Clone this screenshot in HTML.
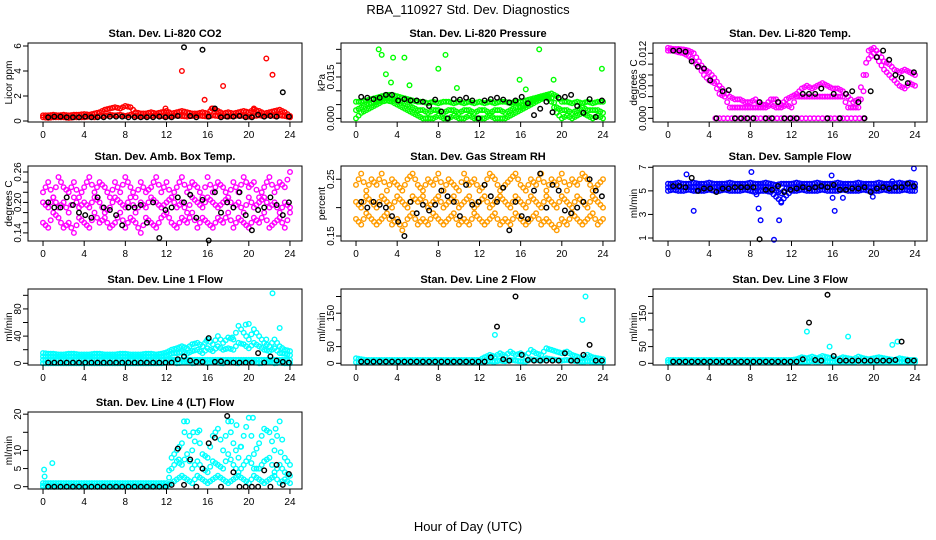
<!DOCTYPE html>
<html><head><meta charset="utf-8"><style>
body{margin:0;background:#fff;}
svg{display:block;font-family:"Liberation Sans",sans-serif;}
</style></head><body>
<svg id="chart" width="936" height="540" viewBox="0 0 936 540">
<rect width="936" height="540" fill="#fff"/>
<text x="468" y="14" font-size="13" text-anchor="middle">RBA_110927  Std. Dev. Diagnostics</text>
<text x="468" y="531" font-size="13" text-anchor="middle">Hour of Day (UTC)</text>
</svg>
<script>
// ---------- data ----------
const co2A=[0.45,0.45,0.5,0.45,0.5,0.45,0.5,0.5,0.55,0.5,0.6,0.7,0.9,1.0,1.1,1.0,1.2,1.1,0.7,0.6,0.6,0.7,0.6,0.7,0.8,0.6,0.7,0.8,0.7,0.6,0.6,0.7,0.6,1.0,0.8,0.6,0.7,0.6,0.7,0.8,0.7,0.9,0.8,0.6,0.7,0.8,0.9,0.7,0.4];
const co2B=[0.3,0.25,0.3,0.3,0.3,0.25,0.3,0.3,0.3,0.35,0.3,0.4,0.4,0.5,0.45,0.5,0.4,0.5,0.4,0.35,0.4,0.4,0.45,0.4,0.35,0.4,0.45,0.4,0.35,0.4,0.45,0.4,0.35,0.45,0.4,0.4,0.35,0.4,0.45,0.4,0.35,0.4,0.45,0.4,0.5,0.4,0.45,0.4,0.3];
const co2OutH=[13.5,15.7,17.5,21.7,22.3,16.4,11.9,20.5];
const co2OutV=[4.0,1.7,2.8,5.0,3.7,1.0,1.0,1.0];
const co2K=[0.3,0.35,0.35,0.3,0.3,0.3,0.35,0.3,0.3,0.3,0.35,0.35,0.35,0.3,0.3,0.3,0.3,0.3,0.35,0.3,0.3,0.4,5.9,0.4,0.3,5.7,0.35,1.0,0.3,0.35,0.35,0.4,0.3,0.3,0.5,0.35,0.4,0.35,2.3,0.35];

const prsA=[0.006,0.006,0.0065,0.007,0.0075,0.008,0.0085,0.0085,0.008,0.0075,0.007,0.0065,0.006,0.006,0.0055,0.006,0.0055,0.006,0.006,0.0055,0.006,0.0055,0.006,0.0055,0.006,0.0055,0.006,0.0055,0.006,0.006,0.0055,0.006,0.006,0.0065,0.007,0.0075,0.008,0.0085,0.009,0.008,0.006,0.006,0.0055,0.006,0.0055,0.006,0.0055,0.006,0.006];
const prsB=[0,0.002,0.003,0.004,0.005,0.006,0.0065,0.006,0.005,0.004,0.003,0.002,0.001,0,0,0,0.001,0,0,0.001,0,0,0.001,0,0,0,0.001,0,0,0,0.001,0.002,0.003,0.004,0.005,0.006,0.007,0.008,0.006,0.002,0,0.001,0,0.001,0.002,0.001,0,0.001,0];
const prsC=[0.003,0.004,0.005,0.0055,0.006,0.007,0.0075,0.007,0.0065,0.006,0.005,0.004,0.003,0.003,0.002,0.003,0.003,0.002,0.003,0.003,0.002,0.003,0.003,0.002,0.003,0.003,0.002,0.003,0.003,0.002,0.003,0.004,0.004,0.005,0.006,0.007,0.0075,0.008,0.0075,0.004,0.003,0.003,0.002,0.003,0.004,0.003,0.003,0.003,0.002];
const prsOutH=[2.2,2.5,2.9,3.4,3.6,4.7,5.2,8.0,8.7,9.8,15.9,16.5,17.8,19.2,23.9];
const prsOutV=[0.025,0.023,0.016,0.013,0.022,0.022,0.012,0.018,0.023,0.011,0.014,0.0105,0.025,0.014,0.018];
const prsK=[0.0078,0.0075,0.007,0.0075,0.0085,0.0085,0.0065,0.007,0.0065,0.0065,0.006,0.0045,0.0068,0.0025,0.0,0.007,0.0068,0.0075,0.0065,0.0,0.0065,0.007,0.0075,0.0068,0.0058,0.0065,0.0078,0.0055,0.0012,0.0035,0.006,0.0022,0.0075,0.0078,0.0085,0.0045,0.002,0.007,0.0005,0.0065];

const tmpA=[0.013,0.0128,0.0128,0.0127,0.0125,0.012,0.0105,0.009,0.0085,0.0075,0.006,0.005,0.004,0.0035,0.0035,0.003,0.003,0.0035,0.0025,0.0025,0.0035,0.0035,0.0025,0.0035,0.004,0.0045,0.0055,0.006,0.0055,0.006,0.0065,0.006,0.0055,0.0055,0.005,0.004,0.003,0.0035,0.008,0.0125,0.013,0.012,0.0105,0.01,0.009,0.0085,0.009,0.0085,0.008];
const tmpB=[0.0125,0.0125,0.0122,0.012,0.0115,0.0105,0.0095,0.008,0.007,0.0065,0.0045,0.004,0.002,0.002,0.002,0.002,0.002,0.002,0.002,0.002,0.0025,0.002,0.002,0.0025,0.002,0.004,0.004,0.004,0.004,0.004,0.004,0.004,0.004,0.004,0.004,0.002,0.002,0.002,0.005,0.011,0.012,0.0105,0.009,0.008,0.007,0.006,0.0055,0.0065,0.006];
const tmpZeroH=[4.6,5.0,5.4,5.8,6.2,6.6,7.0,7.4,7.8,8.2,8.6,9.0,9.4,9.8,10.2,10.6,11.0,11.4,11.8,12.2,12.6,13.0,13.4,13.8,14.2,14.6,15.0,15.4,15.8,16.2,16.6,17.0,17.4,17.8,18.2,18.6,19.0];
const tmpZeroV=[0,0,0,0,0,0,0,0,0,0,0,0,0,0,0,0,0,0,0,0,0,0,0,0,0,0,0,0,0,0,0,0,0,0,0,0,0];
const tmpK=[0.0125,0.0125,0.0123,0.0105,0.0095,0.0092,0.007,0.0,0.005,0.0052,0.0,0.0,0.0,0.0,0.003,0.0,0.0,0.003,0.0,0.0,0.0,0.0045,0.0045,0.0045,0.0055,0.0,0.0045,0.0,0.0045,0.005,0.003,0.0,0.005,0.0113,0.0125,0.0108,0.008,0.0075,0.0065,0.0085];

const ambA=[0.22,0.24,0.21,0.25,0.23,0.22,0.24,0.21,0.23,0.25,0.22,0.24,0.23,0.21,0.24,0.22,0.25,0.23,0.21,0.24,0.22,0.23,0.25,0.22,0.24,0.21,0.23,0.25,0.22,0.24,0.23,0.21,0.25,0.22,0.24,0.23,0.21,0.24,0.22,0.25,0.23,0.24,0.21,0.23,0.25,0.22,0.24,0.23,0.26];
const ambB=[0.16,0.15,0.18,0.17,0.15,0.16,0.14,0.17,0.16,0.15,0.18,0.16,0.17,0.15,0.16,0.18,0.15,0.17,0.16,0.14,0.17,0.16,0.15,0.17,0.18,0.16,0.15,0.17,0.16,0.18,0.15,0.17,0.16,0.15,0.17,0.16,0.18,0.15,0.17,0.16,0.15,0.17,0.16,0.18,0.15,0.16,0.17,0.15,0.18];
const ambC=[0.20,0.19,0.21,0.19,0.20,0.18,0.21,0.19,0.20,0.19,0.21,0.20,0.18,0.19,0.21,0.20,0.19,0.21,0.18,0.20,0.19,0.21,0.20,0.19,0.20,0.21,0.19,0.20,0.18,0.21,0.20,0.19,0.21,0.20,0.19,0.20,0.21,0.19,0.20,0.18,0.21,0.19,0.20,0.21,0.19,0.20,0.18,0.20,0.19];
const ambK=[0.20,0.19,0.19,0.21,0.195,0.18,0.175,0.17,0.21,0.19,0.185,0.175,0.155,0.19,0.19,0.195,0.16,0.2,0.13,0.185,0.19,0.21,0.2,0.215,0.17,0.205,0.125,0.22,0.18,0.2,0.19,0.22,0.175,0.145,0.185,0.19,0.21,0.195,0.175,0.2];

const rhA=[0.24,0.26,0.23,0.25,0.24,0.26,0.23,0.25,0.24,0.23,0.25,0.26,0.24,0.23,0.25,0.24,0.26,0.23,0.25,0.24,0.23,0.26,0.24,0.25,0.23,0.24,0.26,0.25,0.23,0.24,0.25,0.26,0.24,0.23,0.25,0.24,0.26,0.23,0.25,0.24,0.26,0.23,0.25,0.24,0.26,0.25,0.23,0.24,0.25];
const rhB=[0.18,0.17,0.19,0.18,0.17,0.18,0.19,0.17,0.18,0.16,0.18,0.19,0.17,0.18,0.17,0.19,0.18,0.17,0.18,0.19,0.17,0.18,0.17,0.19,0.18,0.17,0.18,0.19,0.17,0.18,0.17,0.19,0.18,0.17,0.18,0.19,0.17,0.18,0.17,0.16,0.18,0.17,0.19,0.18,0.17,0.18,0.19,0.17,0.18];
const rhC=[0.21,0.2,0.22,0.21,0.2,0.22,0.21,0.2,0.22,0.21,0.2,0.22,0.21,0.22,0.2,0.21,0.22,0.2,0.21,0.22,0.2,0.21,0.22,0.2,0.21,0.22,0.2,0.21,0.22,0.21,0.2,0.22,0.21,0.2,0.22,0.21,0.2,0.22,0.21,0.2,0.22,0.21,0.2,0.22,0.21,0.2,0.22,0.21,0.2];
const rhK=[0.21,0.2,0.21,0.205,0.2,0.185,0.175,0.15,0.21,0.19,0.205,0.195,0.205,0.23,0.22,0.21,0.185,0.24,0.205,0.21,0.24,0.22,0.21,0.235,0.16,0.21,0.185,0.18,0.23,0.26,0.2,0.24,0.23,0.195,0.19,0.2,0.21,0.25,0.23,0.22];

const sfA=[5.6,5.6,5.7,5.6,5.6,5.7,5.6,5.6,5.7,5.6,5.6,5.6,5.7,5.6,5.6,5.6,5.7,5.6,5.6,5.7,5.6,5.5,5.6,5.6,5.6,5.7,5.6,5.6,5.6,5.7,5.6,5.6,5.6,5.7,5.6,5.6,5.6,5.7,5.6,5.6,5.6,5.7,5.6,5.6,5.6,5.7,5.6,5.7,5.6];
const sfB=[5.0,5.1,5.0,5.0,5.1,5.0,5.0,5.0,5.1,5.0,5.0,5.1,5.0,5.0,5.0,5.1,5.0,4.9,5.0,5.0,4.9,4.5,4.1,4.6,5.0,5.0,5.1,5.0,5.0,5.0,5.1,5.0,5.0,5.0,5.1,5.0,5.0,5.0,5.1,5.0,5.0,5.0,5.1,5.0,5.0,5.0,5.1,5.0,5.0];
const sfC=[5.3,5.3,5.4,5.3,5.3,5.3,5.4,5.3,5.3,5.3,5.4,5.3,5.3,5.3,5.4,5.3,5.3,5.3,5.4,5.3,5.3,5.0,4.8,5.2,5.3,5.3,5.4,5.3,5.3,5.3,5.4,5.3,5.3,5.3,5.4,5.3,5.3,5.3,5.4,5.3,5.3,5.3,5.4,5.3,5.3,5.3,5.4,5.3,5.3];
const sfOutH=[1.8,2.5,8.1,8.6,8.8,9.0,10.3,10.8,11.0,15.9,16.0,16.2,17.0,19.9,21.8,23.9];
const sfOutV=[6.4,3.3,6.6,4.7,3.5,2.5,0.85,2.5,4.0,6.3,4.4,3.3,4.4,4.5,5.8,6.9];
const sfK=[5.4,5.4,5.3,6.1,5.0,5.2,5.2,4.9,5.2,5.2,5.3,5.3,5.3,5.3,0.9,5.1,5.1,5.4,4.9,5.1,5.2,5.3,5.2,5.3,5.4,5.3,5.5,5.1,5.1,5.2,5.2,5.3,4.9,5.2,5.3,5.2,5.3,5.3,5.6,5.4];

const l1A=[15,14,14,13,13,14,14,13,13,13,14,14,13,13,13,14,14,13,13,13,14,14,13,14,16,20,22,25,22,28,30,25,35,28,40,30,38,35,55,45,35,50,40,30,25,35,25,20,18];
const l1B=[5,5,5,5,5,5,5,5,5,5,5,5,5,5,5,5,5,5,5,5,5,5,5,5,5,5,5,5,5,5,5,5,5,5,5,5,5,5,5,5,5,5,5,5,5,5,5,5,5];
const l1C=[10,10,10,10,10,10,10,10,10,10,10,10,10,10,10,10,10,10,10,10,10,10,10,10,12,14,15,16,14,18,20,15,22,18,25,20,22,20,30,28,22,30,25,20,18,22,15,14,12];
const l1D=[0,0,0,0,0,0,0,0,0,0,0,0,0,0,0,0,0,0,0,0,0,0,0,0,1,2,0,1,2,0,1,3,0,2,1,0,2,1,0,3,1,2,0,1,2,0,1,0,0];
const l1OutH=[15.9,19.7,20.0,21.7,22.3,23.0,18.4];
const l1OutV=[33,57,58,35,103,52,38];
const l1K=[1,1,1,1,1,1,1,1,1,1,1,1,1,1,1,1,1,1,1,1,1,6,10,4,2,2,37,2,3,1,1,1,1,1,15,1,10,4,2,1];

const l2A=[15,12,10,10,10,10,10,10,10,10,10,10,10,10,10,10,10,10,10,10,10,10,10,10,10,18,25,20,30,22,35,25,30,20,40,30,25,45,40,35,30,35,25,20,15,25,18,15,12];
const l2B=[3,3,3,3,3,3,3,3,3,3,3,3,3,3,3,3,3,3,3,3,3,3,3,3,3,5,6,5,8,6,10,8,6,5,12,10,8,15,12,10,8,10,8,6,5,6,5,4,3];
const l2OutH=[13.5,22.0,22.3];
const l2OutV=[85,130,200];
const l2K=[5,5,5,5,5,5,5,5,5,5,5,5,5,5,5,5,5,5,5,5,5,18,110,12,8,200,25,10,8,8,8,8,8,30,8,8,25,55,8,8];

const l3A=[10,10,10,10,10,10,10,10,10,10,10,10,10,10,10,10,10,10,10,10,10,10,10,10,10,12,18,15,20,15,22,18,15,12,18,15,12,20,15,12,15,18,15,12,10,15,12,10,10];
const l3B=[3,3,3,3,3,3,3,3,3,3,3,3,3,3,3,3,3,3,3,3,3,3,3,3,3,4,5,4,6,5,6,5,4,4,5,4,4,6,5,4,4,5,4,4,3,4,3,3,3];
const l3OutH=[13.5,15.7,17.5,21.8,22.3];
const l3OutV=[95,50,80,55,65];
const l3K=[5,5,5,5,5,5,5,5,5,5,5,5,5,5,5,5,5,5,5,5,5,12,122,10,8,205,22,8,8,8,8,8,8,8,8,8,10,65,8,8];

const l4A=[1,1,1,1,1,1,1,1,1,1,1,1,1,1,1,1,1,1,1,1,1,1,1,1,1,8,10,12,18,10,15,9,8,14,16,10,18,12,8,14,19,9,12,16,15,10,18,8,6];
const l4B=[0,0,0,0,0,0,0,0,0,0,0,0,0,0,0,0,0,0,0,0,0,0,0,0,0,5,7,6,9,5,7,5,4,7,6,5,9,6,4,6,8,5,5,7,8,4,6,4,3];
const l4C=[0.3,0.3,0.3,0.3,0.3,0.3,0.3,0.3,0.3,0.3,0.3,0.3,0.3,0.3,0.3,0.3,0.3,0.3,0.3,0.3,0.3,0.3,0.3,0.3,0.3,1,2,3,2,1,3,2,1,2,3,2,1,2,3,2,1,3,2,1,2,3,1,2,1];
const l4OutH=[0.1,0.15,0.9,13.2,13.7,14.6,15.2,18.3,18.8,19.2,20.4,23.1,22.6];
const l4OutV=[4.7,2.8,6.5,7.5,18,15,15.5,18,17,11,19,9.5,16];
const l4K=[0,0,0,0,0,0,0,0,0,0,0,0,0,0,0,0,0,0,0,0,0.5,10.5,0.5,7.5,0,5,12,13.5,0,19.5,4,0,0,0,0,4.5,0,6,0.5,3.5];

// ---------- layout ----------
const colX=[28,341,653], rowY=[43,166,289,412], rowH=[79,75,76,77], boxW=274;
const xLo=-1.46, xHi=25.17;
const xTicks=[0,4,8,12,16,20,24];
const MAG='#ff00ff', CYAN='#00ffff';

const panels=[
 {name:'co2',title:'Stan. Dev. Li-820 CO2',ylab:'Licor ppm',c:0,r:0,lo:-0.08,hi:6.24,ticks:[0,2,4,6],labels:['0','2','4','6'],
  series:[[co2A,'#ff0000'],[co2B,'#ff0000']],out:[[co2OutH,co2OutV,'#ff0000']],k:co2K},
 {name:'pressure',title:'Stan. Dev. Li-820 Pressure',ylab:'kPa',c:1,r:0,lo:-0.0013,hi:0.0273,ticks:[0,0.005,0.01,0.015,0.02,0.025],labels:['0.000','','','0.015','',''],
  series:[[prsA,'#00ff00'],[prsB,'#00ff00'],[prsC,'#00ff00']],out:[[prsOutH,prsOutV,'#00ff00']],k:prsK},
 {name:'li820-temp',title:'Stan. Dev. Li-820 Temp.',ylab:'degrees C',c:2,r:0,lo:-0.00068,hi:0.0139,ticks:[0,0.002,0.004,0.006,0.008,0.01,0.012],labels:['0.000','','','0.006','','','0.012'],
  series:[[tmpA,MAG],[tmpB,MAG]],out:[[tmpZeroH,tmpZeroV,MAG]],k:tmpK},
 {name:'amb-box-temp',title:'Stan. Dev. Amb. Box Temp.',ylab:'degrees C',c:0,r:1,lo:0.124,hi:0.2718,ticks:[0.14,0.16,0.18,0.2,0.22,0.24,0.26],labels:['0.14','','','0.20','','','0.26'],
  series:[[ambA,MAG],[ambB,MAG],[ambC,MAG]],out:[],k:ambK},
 {name:'gas-stream-rh',title:'Stan. Dev. Gas Stream RH',ylab:'percent',c:1,r:1,lo:0.1412,hi:0.2733,ticks:[0.15,0.2,0.25],labels:['0.15','','0.25'],
  series:[[rhA,'#ff9c00'],[rhB,'#ff9c00'],[rhC,'#ff9c00']],out:[],k:rhK},
 {name:'sample-flow',title:'Stan. Dev. Sample Flow',ylab:'ml/min',c:2,r:1,lo:0.745,hi:7.11,ticks:[1,3,5,7],labels:['1','3','5','7'],
  series:[[sfA,'#0000ff'],[sfB,'#0000ff'],[sfC,'#0000ff']],out:[[sfOutH,sfOutV,'#0000ff']],k:sfK},
 {name:'line1-flow',title:'Stan. Dev. Line 1 Flow',ylab:'ml/min',c:0,r:2,lo:-2.5,hi:109.3,ticks:[0,20,40,60,80,100],labels:['0','','40','','80',''],
  series:[[l1A,CYAN],[l1B,CYAN],[l1C,CYAN],[l1D,CYAN]],out:[[l1OutH,l1OutV,CYAN]],k:l1K},
 {name:'line2-flow',title:'Stan. Dev. Line 2 Flow',ylab:'ml/min',c:1,r:2,lo:-5.1,hi:222.5,ticks:[0,50,100,150,200],labels:['0','50','','150',''],
  series:[[l2A,CYAN],[l2B,CYAN]],out:[[l2OutH,l2OutV,CYAN]],k:l2K},
 {name:'line3-flow',title:'Stan. Dev. Line 3 Flow',ylab:'ml/min',c:2,r:2,lo:-5.1,hi:222.5,ticks:[0,50,100,150,200],labels:['0','50','','150',''],
  series:[[l3A,CYAN],[l3B,CYAN]],out:[[l3OutH,l3OutV,CYAN]],k:l3K},
 {name:'line4-flow',title:'Stan. Dev. Line 4 (LT) Flow',ylab:'ml/min',c:0,r:3,lo:-0.64,hi:20.6,ticks:[0,5,10,15,20],labels:['0','5','10','','20'],
  series:[[l4A,CYAN],[l4B,CYAN],[l4C,CYAN]],out:[[l4OutH,l4OutV,CYAN]],k:l4K}
];

const NS='http://www.w3.org/2000/svg';
const svg=document.getElementById('chart');
function mk(tag,attrs,parent){const e=document.createElementNS(NS,tag);for(const a in attrs)e.setAttribute(a,attrs[a]);parent.appendChild(e);return e;}

panels.forEach(p=>{
  const L=colX[p.c], T=rowY[p.r], H=rowH[p.r], B=T+H, R=L+boxW;
  const xs=h=>L+(h-xLo)/(xHi-xLo)*boxW;
  const ys=v=>B-(v-p.lo)/(p.hi-p.lo)*H;
  const g=mk('g',{},svg);
  
  
  const t=mk('text',{x:(L+R)/2,y:T-6,'font-size':11,'font-weight':'bold','text-anchor':'middle'},g);
  t.textContent=p.title;
  
  
  const yl=mk('text',{transform:`translate(${L-16},${(T+B)/2}) rotate(-90)`,'font-size':10,'text-anchor':'middle'},g);
  yl.textContent=p.ylab;
  
  
  const pts=mk('g',{fill:'none','stroke-width':1.4},g);
  
  
  function dot(h,v,col){
    if(v===null||v===undefined)return;
    const c=mk('circle',{cx:xs(h).toFixed(1),cy:ys(v).toFixed(1),r:2.3,stroke:col},pts);
    
    
  }
  p.series.forEach(([arr,col])=>{const n=arr.length;arr.forEach((v,i)=>dot(i*24/(n-1),v,col));
    arr.forEach((v,i)=>{if(i<n-1)dot((i+0.5)*24/(n-1),(v+arr[i+1])/2,col);});});
  p.out.forEach(([hs,vs,col])=>hs.forEach((h,i)=>dot(h,vs[i],col)));
  const n=p.k.length;
  p.k.forEach((v,i)=>dot(0.5+i*23.4/(n-1),v,'#000'));
  const bx=mk('rect',{x:L,y:T,width:boxW,height:H,fill:'none',stroke:'#000','stroke-width':1},g);
  
  
  const xa=mk('g',{},g);
  
  
  mk('line',{x1:xs(0),x2:xs(24),y1:B,y2:B,stroke:'#000'},xa);
  xTicks.forEach(tk=>{
    mk('line',{x1:xs(tk),x2:xs(tk),y1:B,y2:B+5,stroke:'#000'},xa);
    const tl=mk('text',{x:xs(tk),y:B+16,'font-size':10,'text-anchor':'middle'},xa);
    tl.textContent=tk;
    
    
  });
  const ya=mk('g',{},g);
  
  
  mk('line',{x1:L,x2:L,y1:ys(p.ticks[0]),y2:ys(p.ticks[p.ticks.length-1]),stroke:'#000'},ya);
  p.ticks.forEach((tk,i)=>{
    const y=ys(tk);
    mk('line',{x1:L-5,x2:L,y1:y,y2:y,stroke:'#000'},ya);
    if(p.labels[i]){
      const tl=mk('text',{transform:`translate(${L-7},${y}) rotate(-90)`,'font-size':10,'text-anchor':'middle'},ya);
      tl.textContent=p.labels[i];
      
      
    }
  });
});
</script>
</body></html>
